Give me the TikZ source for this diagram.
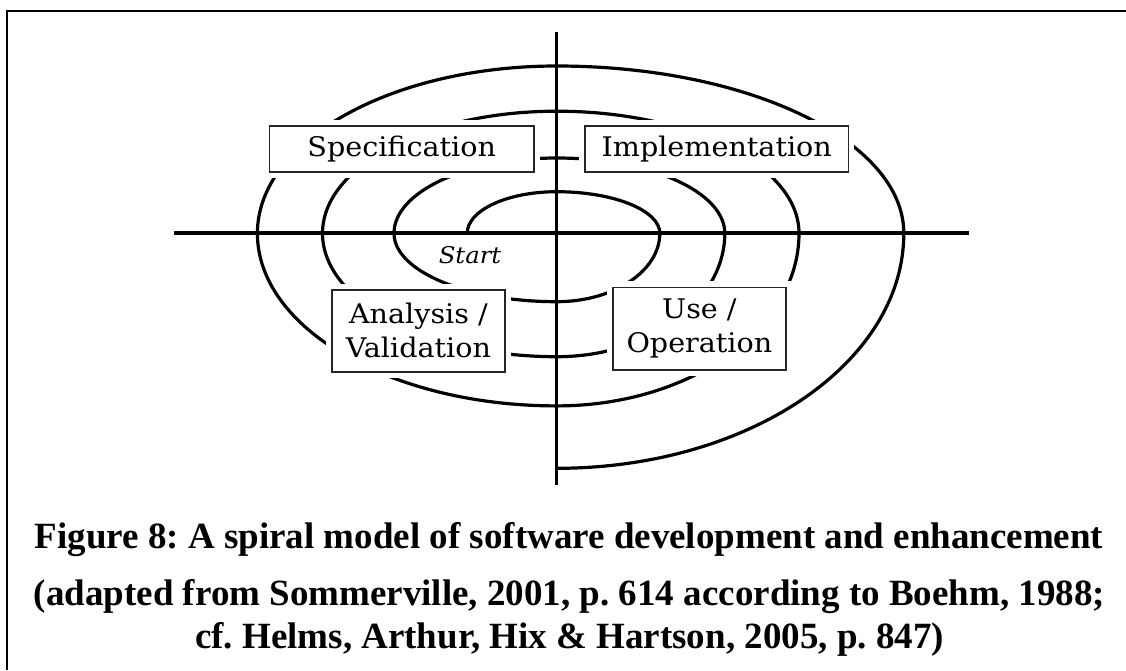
\documentclass[tikz,border=0pt]{standalone}
\usepackage{fontspec}
\setmainfont{Liberation Serif}
\newfontfamily\phasefont[FakeStretch=1.06]{DejaVu Serif}

\tikzset{
  phase/.style={draw=black!85, line width=1.5pt, fill=white,
    preaction={draw=white, line width=12pt}, inner sep=0pt, align=center,
    font=\phasefont\fontsize{27}{34}\selectfont},
  spiral/.style={line width=3.2pt, line cap=round},
  caption/.style={font=\bfseries\frenchspacing\fontsize{37}{43}\selectfont, anchor=base, inner sep=0pt}
}

\begin{document}
\begin{tikzpicture}[x=1pt, y=-1pt]
  \useasboundingbox (0,0) rectangle (1126,670);

  % frame, top and left only
  \draw[line width=1.7pt] (6.7,670) -- (6.7,10.7) -- (1126,10.7);

  % spiral, quarter by quarter round (556.7,233.3)
  \draw[spiral] (467.2,233.3)
    arc[start angle=180,  end angle=270,  x radius=89.5,  y radius=41.6]
    arc[start angle=270,  end angle=360,  x radius=103.1, y radius=41.6]
    arc[start angle=360,  end angle=450,  x radius=103.1, y radius=68.4]
    arc[start angle=450,  end angle=540,  x radius=162.7, y radius=68.4]
    arc[start angle=540,  end angle=630,  x radius=162.7, y radius=75.3]
    arc[start angle=630,  end angle=720,  x radius=168.1, y radius=75.3]
    arc[start angle=720,  end angle=810,  x radius=168.1, y radius=123.4]
    arc[start angle=810,  end angle=900,  x radius=234.2, y radius=123.4]
    arc[start angle=900,  end angle=990,  x radius=234.2, y radius=122.1]
    arc[start angle=990,  end angle=1080, x radius=242.3, y radius=122.1]
    arc[start angle=1080, end angle=1170, x radius=242.3, y radius=172.6]
    arc[start angle=1170, end angle=1260, x radius=299.3, y radius=172.6]
    arc[start angle=1260, end angle=1350, x radius=299.3, y radius=167.3]
    arc[start angle=1350, end angle=1440, x radius=347.1, y radius=167.3]
    arc[start angle=1440, end angle=1530, x radius=347.1, y radius=235];

  % the four phases
  \node[phase, minimum width=264.7, minimum height=46] (spec) at (401.7,149) {Specification};
  \node[phase, minimum width=263.3, minimum height=46.3] (impl) at (716.7,148.9) {Implementation};
  \node[phase, minimum width=173.3, minimum height=81.7] (anal) at (418.4,330.9) {Analysis /\\Validation};
  \node[phase, minimum width=173.3, minimum height=82.7] (use) at (699.4,328.7) {Use /\\Operation};

  \node[font=\phasefont\itshape\fontsize{23}{27}\selectfont] (start) at (470,255) {Start};

  % axes
  \coordinate (hl) at (174.4,233.3);
  \coordinate (hr) at (968.9,233.3);
  \coordinate (vt) at (556.7,31.7);
  \coordinate (vb) at (556.7,485);
  \draw[line width=4.2pt] (hl) -- (hr);
  \draw[line width=3pt] (vt) -- (vb);

  % caption
  \node[caption] (title) at (569,548) {Figure 8: A spiral model of software development and enhancement};
  \node[caption] (src1) at (569.5,605) {(adapted from Sommerville, 2001, p. 614 according to Boehm, 1988;};
  \node[caption] (src2) at (569.5,648) {cf. Helms, Arthur, Hix \& Hartson, 2005, p. 847)};
\end{tikzpicture}
\end{document}
